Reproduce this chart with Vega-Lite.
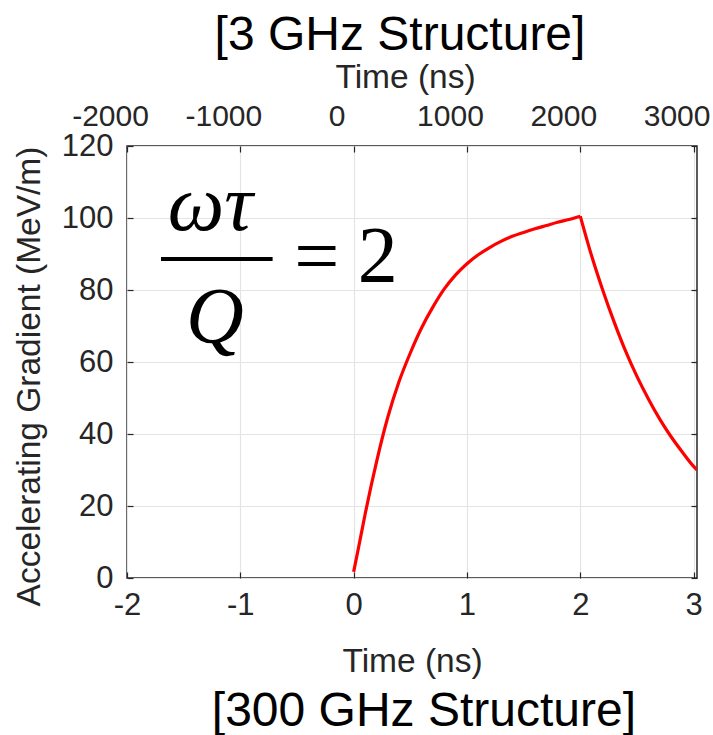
{
  "$schema": "https://vega.github.io/schema/vega-lite/v6.json",
  "autosize": {"type": "none"},
  "padding": {"left": 127, "top": 146, "right": 16, "bottom": 157},
  "width": 570,
  "height": 432,
  "background": "white",
  "title": {
    "text": "[3 GHz Structure]",
    "font": "Arial, Liberation Sans, sans-serif",
    "fontSize": 48,
    "fontWeight": "normal",
    "color": "#000000",
    "anchor": "middle",
    "dx": -12,
    "offset": 0
  },
  "config": {
    "view": {"stroke": "#262626", "strokeWidth": 1.5},
    "axis": {
      "labelFont": "Arial, Liberation Sans, sans-serif",
      "titleFont": "Arial, Liberation Sans, sans-serif",
      "labelFontSize": 31,
      "titleFontSize": 33.5,
      "labelColor": "#262626",
      "titleColor": "#262626",
      "titleFontWeight": "normal",
      "domain": false,
      "gridColor": "#e4e4e4",
      "gridWidth": 1.2,
      "tickColor": "#262626",
      "tickWidth": 1.2,
      "tickSize": -6,
      "labelFlush": false,
      "labelOverlap": false,
      "labelExpr": "replace(datum.label, '−', '-')"
    }
  },
  "layer": [
    {
      "layer": [
        {
          "data": {
            "values": [
              {"phase": "fill", "t": 0.0, "g": 1.7},
              {"phase": "fill", "t": 0.05, "g": 9.5},
              {"phase": "fill", "t": 0.1, "g": 17.5},
              {"phase": "fill", "t": 0.2, "g": 32.0},
              {"phase": "fill", "t": 0.3, "g": 44.5},
              {"phase": "fill", "t": 0.4, "g": 54.5},
              {"phase": "fill", "t": 0.5, "g": 62.5},
              {"phase": "fill", "t": 0.6, "g": 69.5},
              {"phase": "fill", "t": 0.7, "g": 75.3},
              {"phase": "fill", "t": 0.8, "g": 80.3},
              {"phase": "fill", "t": 0.9, "g": 84.2},
              {"phase": "fill", "t": 1.0, "g": 87.3},
              {"phase": "fill", "t": 1.1, "g": 89.8},
              {"phase": "fill", "t": 1.2, "g": 91.8},
              {"phase": "fill", "t": 1.3, "g": 93.5},
              {"phase": "fill", "t": 1.4, "g": 94.9},
              {"phase": "fill", "t": 1.5, "g": 96.0},
              {"phase": "fill", "t": 1.6, "g": 97.0},
              {"phase": "fill", "t": 1.7, "g": 97.9},
              {"phase": "fill", "t": 1.8, "g": 98.8},
              {"phase": "fill", "t": 1.9, "g": 99.6},
              {"phase": "fill", "t": 2.0, "g": 100.5},
              {"phase": "decay", "t": 2.0, "g": 100.5},
              {"phase": "decay", "t": 2.1, "g": 89.5},
              {"phase": "decay", "t": 2.2, "g": 79.8},
              {"phase": "decay", "t": 2.3, "g": 71.0},
              {"phase": "decay", "t": 2.4, "g": 63.0},
              {"phase": "decay", "t": 2.5, "g": 56.0},
              {"phase": "decay", "t": 2.6, "g": 49.8},
              {"phase": "decay", "t": 2.7, "g": 44.2},
              {"phase": "decay", "t": 2.8, "g": 39.3},
              {"phase": "decay", "t": 2.9, "g": 35.0},
              {"phase": "decay", "t": 3.0, "g": 31.0},
              {"phase": "decay", "t": 3.03, "g": 30.0}
            ]
          },
          "mark": {"type": "line", "color": "#ff0000", "strokeWidth": 3.2, "clip": true, "interpolate": "monotone", "strokeJoin": "miter"},
          "encoding": {
            "detail": {"field": "phase"},
            "x": {
              "field": "t",
              "type": "quantitative",
              "scale": {"domain": [-2, 3.03], "nice": false, "zero": false},
              "axis": {
                "orient": "bottom",
                "values": [-2, -1, 0, 1, 2, 3],
                "format": "d",
                "grid": true,
                "labelPadding": 18,
                "title": "Time (ns)",
                "titlePadding": 25
              }
            },
            "y": {
              "field": "g",
              "type": "quantitative",
              "scale": {"domain": [0, 120], "nice": false},
              "axis": {
                "orient": "left",
                "values": [0, 20, 40, 60, 80, 100, 120],
                "grid": true,
                "labelPadding": 20,
                "title": "Accelerating Gradient (MeV/m)",
                "titleX": -98,
                "titleY": 230,
                "titleBaseline": "middle"
              }
            }
          }
        },
        {
          "data": {"values": [{"label": "ωτ"}]},
          "mark": {"type": "text", "font": "Times New Roman, Liberation Serif, serif", "fontStyle": "italic", "fontSize": 80, "color": "#000000", "align": "center", "baseline": "alphabetic"},
          "encoding": {
            "x": {"datum": -1.265},
            "y": {"datum": 96.7},
            "text": {"field": "label"}
          }
        },
        {
          "data": {"values": [{"bar": "fraction"}]},
          "mark": {"type": "rule", "color": "#000000", "strokeWidth": 4},
          "encoding": {
            "x": {"datum": -1.7},
            "x2": {"datum": -0.715},
            "y": {"datum": 88.6}
          }
        },
        {
          "data": {"values": [{"label": "Q"}]},
          "mark": {"type": "text", "font": "Times New Roman, Liberation Serif, serif", "fontStyle": "italic", "fontSize": 80, "color": "#000000", "align": "center", "baseline": "alphabetic"},
          "encoding": {
            "x": {"datum": -1.225},
            "y": {"datum": 65.4},
            "text": {"field": "label"}
          }
        },
        {
          "data": {"values": [{"label": "="}]},
          "mark": {"type": "text", "font": "Times New Roman, Liberation Serif, serif", "fontSize": 80, "color": "#000000", "align": "center", "baseline": "middle"},
          "encoding": {
            "x": {"datum": -0.326},
            "y": {"datum": 88.6},
            "text": {"field": "label"}
          }
        },
        {
          "data": {"values": [{"label": "2"}]},
          "mark": {"type": "text", "font": "Times New Roman, Liberation Serif, serif", "fontSize": 80, "color": "#000000", "align": "center", "baseline": "alphabetic"},
          "encoding": {
            "x": {"datum": 0.213},
            "y": {"datum": 82.2},
            "text": {"field": "label"}
          }
        },
        {
          "data": {"values": [{"label": "[300 GHz Structure]"}]},
          "mark": {"type": "text", "font": "Arial, Liberation Sans, sans-serif", "fontSize": 48, "color": "#000000", "align": "center", "baseline": "alphabetic"},
          "encoding": {
            "x": {"datum": 0.62},
            "y": {"datum": -41},
            "text": {"field": "label"}
          }
        }
      ]
    },
    {
      "data": {"values": [{"axis": "top"}]},
      "mark": {"type": "rule", "opacity": 0},
      "encoding": {
        "x": {
          "datum": 0,
          "type": "quantitative",
          "scale": {"domain": [-2000, 3030], "nice": false, "zero": false},
          "axis": {
            "orient": "top",
            "values": [-2000, -1000, 0, 1000, 2000, 3000],
            "format": "d",
            "grid": false,
            "labelFontSize": 30,
            "labelOffset": -17,
            "labelPadding": 21,
            "title": "Time (ns)",
            "titlePadding": 7,
            "titleX": 278
          }
        }
      }
    },
    {
      "data": {"values": [{"axis": "right"}]},
      "mark": {"type": "rule", "opacity": 0},
      "encoding": {
        "y": {
          "datum": 0,
          "type": "quantitative",
          "scale": {"domain": [0, 120], "nice": false},
          "axis": {
            "orient": "right",
            "values": [0, 20, 40, 60, 80, 100, 120],
            "labels": false,
            "grid": false,
            "title": null
          }
        }
      }
    }
  ],
  "resolve": {"scale": {"x": "independent", "y": "independent"}}
}
